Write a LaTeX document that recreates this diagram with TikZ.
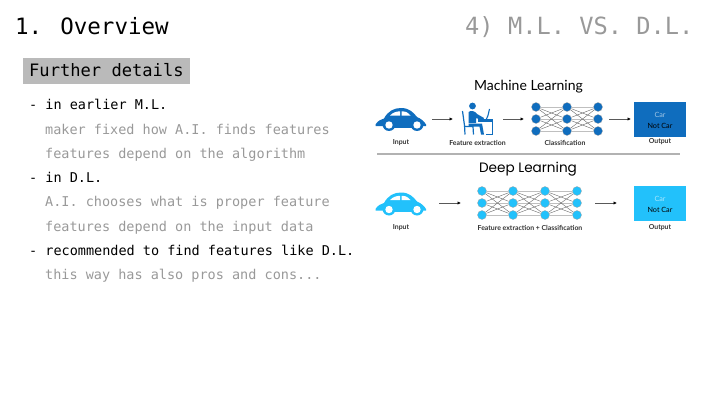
\documentclass[tikz,border=0pt]{standalone}
\usepackage{fontspec}
\setmainfont{DejaVu Sans Mono}
\newfontfamily\labelfont{Lato}
\newfontfamily\headfont{Poppins}
\usetikzlibrary{arrows.meta,backgrounds}
\definecolor{mlblue}{HTML}{0F6DBE}
\definecolor{dlblue}{HTML}{22C1FB}
\definecolor{greytxt}{HTML}{999999}
\tikzset{
  x=1pt,y=-1pt,
  txt/.style={anchor=base west,inner sep=0pt,font=\fontsize{13.5}{16}\selectfont},
  dim/.style={txt,text=greytxt},
  bigtitle/.style={anchor=base west,inner sep=0pt,font=\fontsize{22.5}{28}\selectfont},
  small/.style={inner sep=0pt,font=\labelfont\bfseries\fontsize{6.9}{8}\selectfont,text=black!80},
  boxlabel/.style={inner sep=0pt,font=\labelfont\fontsize{7.2}{8}\selectfont},
  head/.style={inner sep=0pt,font=\headfont\fontsize{13.6}{16}\selectfont},
  neuron/.style={circle,minimum size=9pt,inner sep=0pt,draw=black!35,line width=0.3pt},
  flow/.style={draw=black!65,line width=0.7pt,-{Latex[length=3.5pt,width=3.5pt,black]}},
  wire/.style={draw=black!60,line width=0.4pt},
  flatwire/.style={draw=black!25,line width=1pt},
  outbox/.style={minimum width=52pt,minimum height=35pt,inner sep=0pt},
  pics/car/.style={code={
    \fill[#1] (-25.5,18.5) .. controls (-23,14.5) and (-20,13.5) .. (-17,12.5)
      .. controls (-13,5) and (-7,2) .. (0,2)
      .. controls (8,2) and (12,6) .. (16,11)
      .. controls (20,13) and (23,15) .. (25,18.5)
      -- (25,20) -- (-25.5,20) -- cycle;
    \fill[#1] (-12,18.5) circle (6.5);
    \fill[#1] (16,18.5) circle (6.5);
    \fill[#1] (-12,17) rectangle (16,21.5);
    \fill[white] (-11,9.5) .. controls (-8,6.5) and (-5,5.5) .. (-1,5.3) -- (-1,9.5) -- cycle;
    \fill[white] (0.5,5.3) .. controls (5,5.3) and (8,7) .. (9.5,9.5) -- (0.5,9.5) -- cycle;
    \fill[white] (-12,19) circle (3.7);
    \fill[white] (16,19) circle (3.7);
  }}
}
\begin{document}
\begin{tikzpicture}
\useasboundingbox (0,0) rectangle (720,404);
% left column
\node[bigtitle] (title) at (15,35) {1. Overview};
\node[bigtitle,text=greytxt,font=\fontsize{23.7}{28}\selectfont] (sect) at (465,35) {4) M.L. VS. D.L.};
\fill[black!27] (23,58) rectangle (190,84);
\node[anchor=base west,inner sep=0pt,font=\fontsize{17.1}{20}\selectfont] (further) at (29,77) {Further details};
\node[txt] (l1) at (29,110) {- in earlier M.L.};
\node[dim] (l2) at (45,134) {maker fixed how A.I. finds features};
\node[dim] (l3) at (45,158) {features depend on the algorithm};
\node[txt] (l4) at (29,182) {- in D.L.};
\node[dim] (l5) at (45,206) {A.I. chooses what is proper feature};
\node[dim] (l6) at (45,231) {features depend on the input data};
\node[txt] (l7) at (29,255) {- recommended to find features like D.L.};
\node[dim] (l8) at (45,279) {this way has also pros and cons...};
% machine learning
\node[head,font=\labelfont\fontsize{14}{16}\selectfont] (mlh) at (528.5,87) {Machine Learning};
\pic at (401,106) {car=mlblue};
\node[small] (i1) at (401,142.5) {Input};
\coordinate (a1) at (432,119); \coordinate (b1) at (453,119);
\draw[flow] (a1) -- (b1);
% person at desk
\fill[mlblue] (472.5,106) circle (3.4);
\fill[mlblue] (468.5,112) .. controls (471,110) and (475,111) .. (477,114) -- (484,118) -- (483,120.5) -- (476,118) -- (476,123) -- (468.5,123) -- cycle;
\fill[mlblue] (468.5,123.5) -- (482,123.5) -- (484,134.5) -- (481,134.5) -- (479.5,126.5) -- (468.5,126.5) -- cycle;
\draw[mlblue,line width=1.2pt] (462.5,111) -- (464.5,125.5) -- (465,134.5) (464.5,126.5) -- (473,126.5) -- (473.5,134.5);
\draw[mlblue,line width=1.3pt] (478,120) -- (492.5,120) -- (492.5,134.5) -- (485.5,134.5);
\draw[mlblue,line width=1.1pt] (486,120) -- (488,115.5) -- (489.5,109);
\fill[mlblue] (478,118.5) rectangle (493,121.5);
\node[small] (i2) at (477.5,142.5) {Feature extraction};
\coordinate (a2) at (503,119); \coordinate (b2) at (524,119);
\draw[flow] (a2) -- (b2);
\foreach \c/\x in {1/536,2/567,3/598}
  \foreach \r/\y in {1/107,2/119,3/131}
    \node[neuron,fill=mlblue] (m\c\r) at (\x,\y) {};
\begin{pgfonlayer}{background}
\foreach \r in {1,2,3}{
  \draw[flatwire] (m1\r) -- (m2\r);
  \draw[flatwire] (m2\r) -- (m3\r);
}
\foreach \r in {1,2,3}\foreach \s in {1,2,3}{
  \ifnum\r=\s\else
  \draw[wire] (m1\r) -- (m2\s);
  \draw[wire] (m2\r) -- (m3\s);
  \fi
}
\end{pgfonlayer}
\node[small] (i3) at (565,142.5) {Classification};
\coordinate (a3) at (609,119); \coordinate (b3) at (631,119);
\draw[flow] (a3) -- (b3);
\node[outbox,fill=mlblue] (o1) at (660,119.5) {};
\node[boxlabel,text=white!60!mlblue] (car1) at (660,114.5) {Car};
\node[boxlabel,text=black] (nc1) at (660,125.5) {Not Car};
\node[small] (i4) at (660,141.5) {Output};
% divider
\coordinate (d1) at (377,154); \coordinate (d2) at (680,154);
\draw[black!30,line width=1.5pt] (d1) -- (d2);
% deep learning
\node[head] (dlh) at (528,169) {Deep Learning};
\pic at (401,190.5) {car=dlblue};
\node[small] (i5) at (401,227.5) {Input};
\coordinate (a4) at (439,203); \coordinate (b4) at (461,203);
\draw[flow] (a4) -- (b4);
\foreach \c/\x in {1/482,2/513,3/545,4/577}
  \foreach \r/\y in {1/191,2/203,3/215}
    \node[neuron,fill=dlblue] (n\c\r) at (\x,\y) {};
\begin{pgfonlayer}{background}
\foreach \r in {1,2,3}{
  \draw[flatwire] (n1\r) -- (n2\r);
  \draw[flatwire] (n2\r) -- (n3\r);
  \draw[flatwire] (n3\r) -- (n4\r);
}
\foreach \r in {1,2,3}\foreach \s in {1,2,3}{
  \ifnum\r=\s\else
  \draw[wire] (n1\r) -- (n2\s);
  \draw[wire] (n2\r) -- (n3\s);
  \draw[wire] (n3\r) -- (n4\s);
  \fi
}
\end{pgfonlayer}
\node[small] (i6) at (530,227.5) {Feature extraction + Classification};
\coordinate (a5) at (595,203); \coordinate (b5) at (617,203);
\draw[flow] (a5) -- (b5);
\node[outbox,fill=dlblue] (o2) at (660,203.5) {};
\node[boxlabel,text=white!60!dlblue] (car2) at (660,199) {Car};
\node[boxlabel,text=black] (nc2) at (660,209.5) {Not Car};
\node[small] (i7) at (660,227.5) {Output};
\end{tikzpicture}
\end{document}
